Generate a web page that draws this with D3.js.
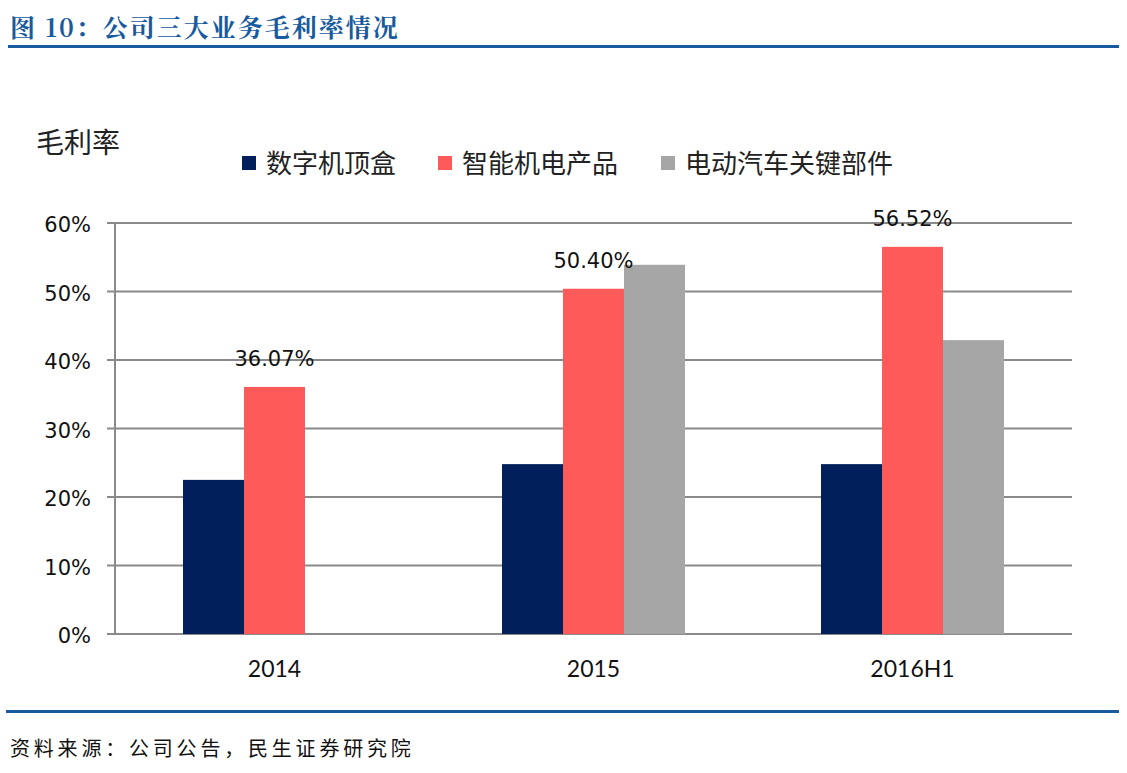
<!DOCTYPE html>
<html><head><meta charset="utf-8">
<script src="https://cdn.jsdelivr.net/npm/d3@7"></script>
<style>body{margin:0;background:#fff}svg{display:block}</style>
</head><body>
<script>
const categories = ["2014", "2015", "2016H1"];
const seriesNames = ["数字机顶盒", "智能机电产品", "电动汽车关键部件"];
const stb = [22.5, 24.8, 24.8];
const mech = [36.07, 50.40, 56.52];
const ev = [null, 53.9, 42.9];
const yTicks = [0, 10, 20, 30, 40, 50, 60];
const labelValues = ["36.07%", "50.40%", "56.52%"];
const colors = ["#001f5b", "#ff5a5a", "#a6a6a6"];

(function () {
const W = 1127, H = 773;
const svg = d3.select("body").append("svg").attr("width", W).attr("height", H);
const cjk = "'Noto Sans CJK SC', sans-serif";
const dv = "'DejaVu Sans', sans-serif";
const lato = "Lato, 'Open Sans', sans-serif";

// title
svg.append("text").attr("x", 10).attr("y", 37).attr("fill", "#175a9e")
  .attr("font-family", "'Noto Serif CJK SC','Noto Sans CJK SC',serif").attr("font-weight", "bold")
  .attr("font-size", 25).attr("letter-spacing", 2).text("图 10：公司三大业务毛利率情况");
svg.append("rect").attr("x", 8).attr("y", 45).attr("width", 1111).attr("height", 3).attr("fill", "#175a9e");
svg.append("rect").attr("x", 6).attr("y", 710).attr("width", 1113).attr("height", 3).attr("fill", "#175a9e");
svg.append("text").attr("x", 10).attr("y", 756).attr("fill", "#111")
  .attr("font-family", cjk).attr("font-size", 20).attr("letter-spacing", 3.8).text("资料来源：公司公告，民生证券研究院");

const pl = 115, pr = 1072, pt = 223, pb = 634;
const x = d3.scaleBand().domain(categories).range([pl, pr]);
const y = d3.scaleLinear().domain([0, 60]).range([pb, pt]);
const x1 = d3.scaleBand().domain(seriesNames).range([0, 183]);

// grid
svg.append("g").selectAll("line").data(yTicks).join("line")
  .attr("x1", pl - 8).attr("x2", pr).attr("y1", d => y(d)).attr("y2", d => y(d))
  .attr("stroke", "#8a8a8a").attr("stroke-width", 2);
svg.append("line").attr("x1", pl).attr("x2", pl).attr("y1", pt).attr("y2", pb)
  .attr("stroke", "#8a8a8a").attr("stroke-width", 2);
svg.append("g").selectAll("text").data(yTicks).join("text")
  .attr("x", 91).attr("y", d => y(d) + 9).attr("text-anchor", "end")
  .attr("font-family", dv).attr("font-size", 21).attr("fill", "#111").text(d => d + "%");

// bars
const series = [stb, mech, ev];
series.forEach((vals, si) => {
  svg.append("g").selectAll("rect").data(categories.map((c, i) => ({c, v: vals[i]})).filter(d => d.v != null))
    .join("rect")
    .attr("x", d => x(d.c) + x.bandwidth() / 2 - 91.5 + x1(seriesNames[si]))
    .attr("y", d => y(d.v)).attr("width", x1.bandwidth()).attr("height", d => pb - y(d.v))
    .attr("fill", colors[si]);
});
// data labels on red bars
svg.append("g").selectAll("text").data(categories.map((c, i) => ({c, v: mech[i], t: labelValues[i]})))
  .join("text")
  .attr("x", d => x(d.c) + x.bandwidth() / 2 - 91.5 + x1(seriesNames[1]) + x1.bandwidth() / 2)
  .attr("y", d => y(d.v) - 21).attr("text-anchor", "middle")
  .attr("font-family", dv).attr("font-size", 21).attr("fill", "#111").text(d => d.t);

// x labels
svg.append("g").selectAll("text").data(categories).join("text")
  .attr("x", d => x(d) + x.bandwidth() / 2).attr("y", 677).attr("text-anchor", "middle")
  .attr("font-family", lato).attr("font-size", 23).attr("fill", "#111").text(d => d);

// y title
svg.append("text").attr("x", 36).attr("y", 153).attr("font-family", cjk).attr("font-size", 28)
  .attr("fill", "#222").text("毛利率");

// legend
const legX = [242, 438, 661];
seriesNames.forEach((n, i) => {
  svg.append("rect").attr("x", legX[i]).attr("y", 156).attr("width", 14).attr("height", 14).attr("fill", colors[i]);
  svg.append("text").attr("x", legX[i] + 24).attr("y", 173).attr("font-family", cjk).attr("font-size", 26)
    .attr("fill", "#222").text(n);
});
})();
</script>
</body></html>
